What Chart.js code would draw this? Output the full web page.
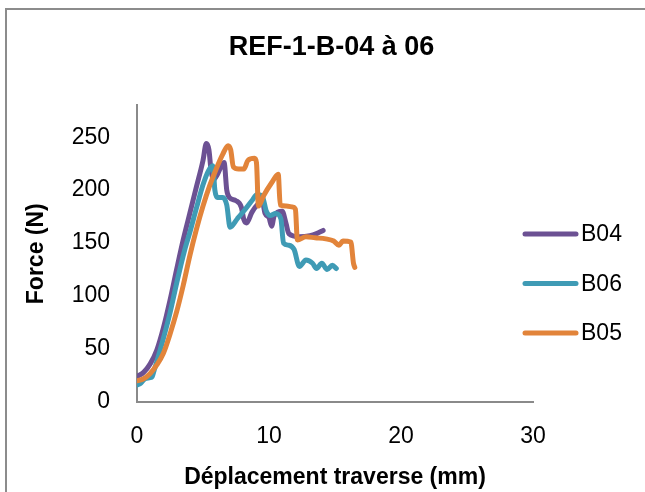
<!DOCTYPE html>
<html>
<head>
<meta charset="utf-8">
<script src="https://cdn.jsdelivr.net/npm/chart.js@4"></script>
<style>
  html, body { margin: 0; padding: 0; background: #fff; }
  #wrap { width: 645px; height: 492px; }
</style>
</head>
<body>
<div id="wrap"><canvas id="graphe" width="645" height="492"></canvas></div>
<script>
// B04
const b04X = [0, 0.5, 1.0, 1.5, 2.0, 2.5, 3.0, 3.5, 4.0, 4.5, 5.0, 5.25, 5.45, 5.6, 5.8, 6.1, 6.4, 6.6, 6.8, 7.0, 7.5, 7.9, 8.1, 8.3, 8.7, 9.1, 9.5, 9.7, 10.0, 10.2, 10.4, 11.0, 11.3, 11.5, 12.3, 13.1, 13.6, 14.1];
const b04Y = [24, 28, 36, 49, 70, 96, 125, 153, 178, 203, 228, 244, 238, 220, 210, 215, 223, 226, 200, 193, 190, 184, 172, 169, 179, 186, 189, 178, 174, 166, 176, 180, 168, 159, 156, 157, 159, 162];

// B06
const b06X = [0, 0.3, 0.6, 1.0, 1.15, 1.3, 1.5, 1.75, 2.0, 2.5, 3.0, 3.6, 4.0, 4.5, 5.0, 5.4, 5.75, 5.9, 6.1, 6.5, 6.8, 7.05, 7.6, 8.2, 8.7, 9.1, 9.5, 9.8, 10.1, 10.5, 10.9, 11.1, 11.5, 11.9, 12.3, 12.8, 13.3, 13.6, 14.0, 14.4, 14.8, 15.1];
const b06Y = [16, 18, 22, 23, 24, 30, 38, 49, 60, 84, 112, 143, 160, 183, 205, 218, 223, 200, 193, 193, 186, 165, 173, 182, 190, 196, 194, 180, 176, 178, 173, 150, 148, 144, 128, 134, 131, 126, 131, 125, 129, 126];

// B05
const b05X = [0, 0.5, 1.0, 1.5, 2.0, 2.5, 3.0, 3.5, 4.0, 4.5, 5.0, 5.5, 6.0, 6.5, 6.9, 7.1, 7.3, 7.7, 8.1, 8.4, 8.9, 9.05, 9.2, 9.6, 10.2, 10.7, 10.85, 11.3, 11.8, 12.0, 12.15, 12.8, 13.5, 14.3, 14.9, 15.3, 15.6, 16.2, 16.4, 16.5];
const b05Y = [20, 22, 27, 35, 46, 64, 85, 110, 138, 163, 185, 204, 220, 234, 242, 238, 222, 220, 220, 228, 230, 226, 185, 195, 207, 215, 186, 185, 184, 182, 153, 156, 155, 154, 152, 148, 152, 151, 131, 127];

const seriesLabels = ["B04", "B06", "B05"];
const seriesColors = ["#6C5193", "#3F9BB5", "#E2843A"];
const xTicks = [0, 10, 20, 30];
const yTicks = [0, 50, 100, 150, 200, 250];

const toPoints = (xs, ys) => xs.map((x, i) => ({ x: x, y: ys[i] }));

// cadre gris autour du graphique
const cadre = {
  id: "cadre",
  beforeDraw(chart) {
    const c = chart.ctx;
    c.save();
    c.fillStyle = "#fff";
    c.fillRect(0, 0, chart.width, chart.height);
    c.strokeStyle = "#8c8c8c";
    c.lineWidth = 2;
    c.strokeRect(6, 9, 700, 600);
    c.restore();
  },
};

// légende à droite, qui empiète un peu sur la zone du graphe comme dans Excel
const legendeLignes = {
  id: "legendeLignes",
  afterDraw(chart) {
    const c = chart.ctx;
    c.save();
    c.font = '23px "Liberation Sans"';
    c.textBaseline = "middle";
    chart.data.datasets.forEach((ds, i) => {
      const y = 234 + i * 49.5;
      c.strokeStyle = ds.borderColor;
      c.lineWidth = 5;
      c.lineCap = "round";
      c.beginPath();
      c.moveTo(525, y);
      c.lineTo(576, y);
      c.stroke();
      c.fillStyle = "#000";
      c.fillText(ds.label, 581, y + 1);
    });
    c.restore();
  },
};

const ctx = document.getElementById("graphe");

new Chart(ctx, {
  type: "scatter",
  data: {
    datasets: [
      {
        label: seriesLabels[0],
        data: toPoints(b04X, b04Y),
        borderColor: seriesColors[0],
        backgroundColor: seriesColors[0],
        order: 3,
      },
      {
        label: seriesLabels[1],
        data: toPoints(b06X, b06Y),
        borderColor: seriesColors[1],
        backgroundColor: seriesColors[1],
        order: 2,
      },
      {
        label: seriesLabels[2],
        data: toPoints(b05X, b05Y),
        borderColor: seriesColors[2],
        backgroundColor: seriesColors[2],
        order: 1,
      },
    ],
  },
  options: {
    responsive: false,
    animation: false,
    devicePixelRatio: 1,
    layout: { padding: { left: 18, right: 0, top: 0, bottom: 0 } },
    datasets: {
      scatter: {
        showLine: true,
        borderWidth: 5,
        pointRadius: 0,
        pointHoverRadius: 0,
        cubicInterpolationMode: "monotone",
        borderJoinStyle: "round",
        borderCapStyle: "round",
      },
    },
    plugins: {
      legend: { display: false },
      tooltip: { enabled: false },
      title: {
        display: true,
        text: "REF-1-B-04 à 06",
        color: "#000",
        font: { family: "Liberation Sans", size: 27, weight: "bold" },
        padding: { top: 31, bottom: 42 },
      },
    },
    scales: {
      x: {
        type: "linear",
        min: xTicks[0],
        max: xTicks[xTicks.length - 1],
        afterFit: (s) => { s.height = 90; },
        grid: { display: false, drawTicks: false },
        border: { display: true, color: "#8a8a8a", width: 2 },
        ticks: {
          stepSize: 10,
          padding: 21,
          color: "#000",
          font: { family: "Liberation Sans", size: 23 },
        },
        title: {
          display: true,
          text: "Déplacement traverse (mm)",
          color: "#000",
          font: { family: "Liberation Sans", size: 23, weight: "bold" },
          padding: { top: 0, bottom: 1 },
        },
      },
      y: {
        type: "linear",
        min: yTicks[0],
        max: 280,
        afterFit: (s) => { s.width = 119; },
        grid: { display: false, drawTicks: false },
        border: { display: true, color: "#8a8a8a", width: 2 },
        ticks: {
          stepSize: 50,
          includeBounds: false,
          padding: 27,
          color: "#000",
          font: { family: "Liberation Sans", size: 23 },
        },
        title: {
          display: true,
          text: "Force (N)",
          color: "#000",
          font: { family: "Liberation Sans", size: 23, weight: "bold" },
          padding: { top: 5, bottom: 0 },
        },
      },
      // axe vide à droite : réserve la place de la légende
      reserve: {
        type: "linear",
        position: "right",
        afterFit: (s) => { s.width = 112; },
        grid: { display: false, drawTicks: false },
        border: { display: false },
        ticks: { display: false },
      },
    },
  },
  plugins: [cadre, legendeLignes],
});
</script>
</body>
</html>
